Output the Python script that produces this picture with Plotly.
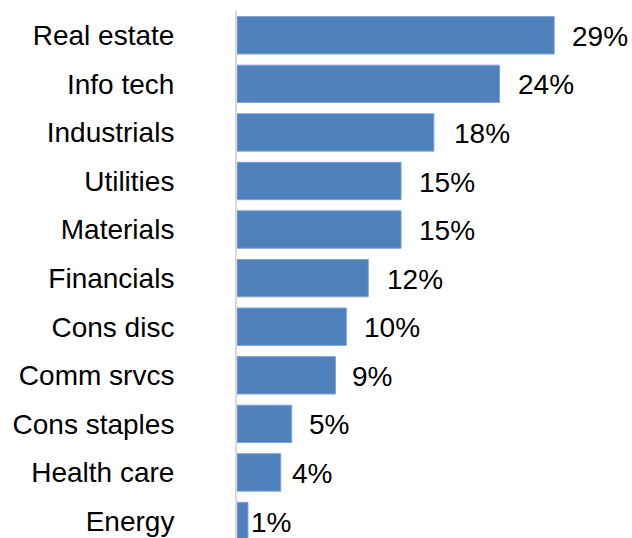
import plotly.graph_objects as go

# Sector shares, top to bottom
sectors = ["Real estate", "Info tech", "Industrials", "Utilities", "Materials",
           "Financials", "Cons disc", "Comm srvcs", "Cons staples", "Health care", "Energy"]
shares = [29, 24, 18, 15, 15, 12, 10, 9, 5, 4, 1]
share_labels = [f"{v}%" for v in shares]

# horizontal gap (px) between each bar end and its value label
label_gap = [18, 18, 20, 18, 18, 19, 18, 17, 17, 11, 3]

FONT = "Liberation Sans, Arial, sans-serif"

fig = go.Figure(go.Bar(
    x=shares,
    y=sectors,
    orientation="h",
    marker=dict(color="#4F81BD", line=dict(color="#7FA3D1", width=1)),
    width=0.77,
    hoverinfo="skip",
))

for s, v, t, g in zip(sectors, shares, share_labels, label_gap):
    fig.add_annotation(
        x=v, y=s, text=t, showarrow=False,
        xanchor="left", yanchor="middle", xshift=g - 2, yshift=-1,
        font=dict(family=FONT, size=28, color="#000000"),
    )

fig.update_layout(
    width=632, height=538,
    margin=dict(l=237, r=45, t=11, b=0),
    paper_bgcolor="white", plot_bgcolor="white",
    showlegend=False,
    font=dict(family=FONT, size=28, color="#000000"),
    xaxis=dict(range=[0, 32], visible=False, fixedrange=True),
    yaxis=dict(
        type="category",
        range=[10.35, -0.5],
        showline=True, linecolor="#D9D9D9", linewidth=2,
        showgrid=False, zeroline=False,
        ticks="", ticklabelstandoff=55,
        tickfont=dict(family=FONT, size=28, color="#000000"),
        fixedrange=True,
    ),
)

fig.write_html("out.html")
